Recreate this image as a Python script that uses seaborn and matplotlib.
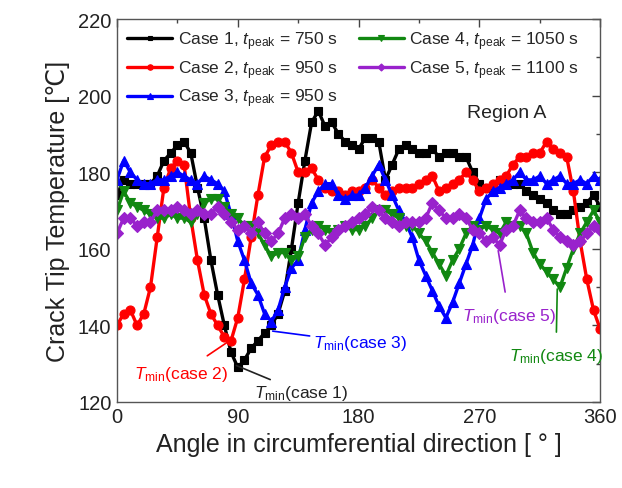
import numpy as np
import pandas as pd
import matplotlib
matplotlib.use("Agg")
import matplotlib.pyplot as plt
import seaborn as sns

sns.set_theme(style="white")
plt.rcParams['font.family'] = ['Liberation Sans', 'DejaVu Sans']
plt.rcParams['mathtext.fontset'] = 'custom'
plt.rcParams['mathtext.rm'] = 'Liberation Sans'
plt.rcParams['mathtext.it'] = 'Liberation Sans:italic'

angle = list(range(0, 361, 5))

case1 = [174, 178, 177, 177, 177, 177, 179, 183, 185, 187, 188, 185, 176, 168, 157,
         148, 140, 133, 129, 131, 134, 136, 138, 140, 143, 149, 160, 172, 183, 193,
         196, 192, 193, 190, 188, 187, 186, 189, 189, 188, 178, 182, 186, 187, 186,
         185, 185, 186, 184, 185, 185, 184, 184, 180, 177, 176, 176, 178, 177, 177,
         177, 175, 174, 173, 172, 170, 169, 169, 170, 171, 172, 174, 171]
case2 = [140, 143, 144, 140, 143, 150, 163, 176, 181, 183, 182, 168, 157, 148, 143,
         140, 137, 136, 142, 152, 163, 174, 184, 187, 188, 188, 185, 180, 180, 181,
         178, 176, 175, 175, 174, 175, 175, 176, 178, 176, 174, 175, 176, 176, 176,
         177, 178, 179, 175, 176, 177, 178, 180, 178, 175, 176, 177, 178, 179, 182,
         184, 184, 185, 185, 188, 186, 185, 184, 175, 162, 152, 144, 139]
case3 = [178, 183, 180, 178, 177, 177, 178, 178, 179, 180, 179, 178, 177, 179, 178,
         177, 175, 169, 162, 157, 151, 148, 143, 141, 144, 150, 155, 157, 165, 172,
         175, 177, 177, 174, 173, 174, 174, 176, 179, 182, 178, 174, 170, 167, 163,
         157, 153, 149, 145, 142, 146, 151, 156, 161, 168, 173, 175, 176, 177, 178,
         180, 178, 178, 179, 177, 178, 179, 177, 177, 178, 177, 179, 178]
case4 = [170, 175, 172, 171, 170, 169, 168, 168, 169, 168, 168, 167, 169, 172, 173,
         173, 171, 169, 168, 166, 166, 164, 161, 158, 159, 159, 157, 158, 163, 165,
         166, 165, 164, 165, 166, 165, 165, 166, 168, 170, 170, 169, 168, 166, 166,
         164, 162, 159, 156, 153, 157, 160, 164, 166, 165, 166, 165, 164, 167, 166,
         166, 164, 159, 156, 154, 152, 150, 155, 160, 164, 167, 170, 167]
case5 = [164, 168, 168, 166, 167, 167, 170, 170, 170, 171, 170, 169, 170, 169, 169,
         171, 169, 167, 165, 166, 164, 167, 164, 162, 164, 168, 169, 168, 169, 166,
         164, 161, 163, 165, 166, 167, 168, 169, 171, 170, 168, 167, 166, 167, 167,
         167, 168, 172, 170, 168, 168, 169, 168, 165, 164, 162, 163, 161, 165, 166,
         170, 168, 167, 167, 168, 165, 163, 162, 161, 162, 164, 166, 165]

labels = [r"Case 1, $t_{\mathrm{peak}}$ = 750 s",
          r"Case 2, $t_{\mathrm{peak}}$ = 950 s",
          r"Case 3, $t_{\mathrm{peak}}$ = 950 s",
          r"Case 4, $t_{\mathrm{peak}}$ = 1050 s",
          r"Case 5, $t_{\mathrm{peak}}$ = 1100 s"]
series = [case1, case2, case3, case4, case5]
colors = ["#000000", "#ff0000", "#0000ff", "#118811", "#9922cc"]
markers = ["s", "o", "^", "v", "D"]
msizes = [6.0, 6.5, 7.0, 7.0, 6.0]

fig = plt.figure(figsize=(6.22, 4.89), dpi=100)
ax = fig.add_axes([0.188, 0.176, 0.777, 0.783])

for lab, ys, c, m, ms in zip(labels, series, colors, markers, msizes):
    df = pd.DataFrame({"angle": angle, "T": ys})
    sns.lineplot(data=df, x="angle", y="T", ax=ax, color=c, marker=m,
                 markersize=ms, markeredgecolor=c, markeredgewidth=0.8,
                 linewidth=2.4, label=lab)

ax.set_xlim(0, 360)
ax.set_ylim(120, 220)
ax.set_xticks([0, 90, 180, 270, 360])
ax.set_xticks([45, 135, 225, 315], minor=True)
ax.set_yticks([120, 140, 160, 180, 200, 220])
ax.set_yticks([130, 150, 170, 190, 210], minor=True)
ax.tick_params(axis='both', which='both', direction='in', top=True, right=True,
               colors='#444444', labelcolor='#222222')
ax.tick_params(axis='both', which='major', length=6, width=1, labelsize=14.5, pad=4)
ax.tick_params(axis='both', which='minor', length=3, width=1)
for s in ax.spines.values():
    s.set_color('#555555')
    s.set_linewidth(1.0)

ax.set_xlabel("Angle in circumferential direction [ ° ]", fontsize=18, color='#222222', labelpad=4)
ax.set_ylabel("Crack Tip Temperature [℃]", fontsize=18, color='#222222', labelpad=6)

leg = ax.legend(loc='upper left', ncol=2, frameon=False, fontsize=12.5,
                handlelength=2.6, columnspacing=1.2, labelspacing=0.35,
                handletextpad=0.3, borderaxespad=0.2, bbox_to_anchor=(0.0, 1.0),
                markerscale=0.6)

ax.text(290, 195.5, "Region A", fontsize=14, color='#222222', ha='center', va='center')

ann = dict(fontsize=12.5, va='center')
ax.annotate(r"$T_{\mathrm{min}}$(case 1)", xy=(89, 129.5), xytext=(102, 122.5),
            color='#222222', arrowprops=dict(arrowstyle='-', color='#222222', lw=1.2,
                                             shrinkA=0, shrinkB=0), ha='left', **ann)
ax.annotate(r"$T_{\mathrm{min}}$(case 2)", xy=(84, 136), xytext=(48, 127.5),
            color='#ff0000', arrowprops=dict(arrowstyle='-', color='#ff0000', lw=1.2,
                                             shrinkA=6, shrinkB=0), ha='center', **ann)
ax.annotate(r"$T_{\mathrm{min}}$(case 3)", xy=(116, 138.5), xytext=(146, 135.5),
            color='#0000ff', arrowprops=dict(arrowstyle='-', color='#0000ff', lw=1.2,
                                             shrinkA=0, shrinkB=0), ha='left', **ann)
ax.annotate(r"$T_{\mathrm{min}}$(case 5)", xy=(284, 159.5), xytext=(257, 142.5),
            color='#9922cc', arrowprops=dict(arrowstyle='-', color='#9922cc', lw=1.2,
                                             shrinkA=8, shrinkB=0), ha='left', **ann)
ax.annotate(r"$T_{\mathrm{min}}$(case 4)", xy=(328, 149.5), xytext=(327, 132),
            color='#118811', arrowprops=dict(arrowstyle='-', color='#118811', lw=1.2,
                                             shrinkA=8, shrinkB=0), ha='center', **ann)

fig.savefig("out.png", dpi=100)
